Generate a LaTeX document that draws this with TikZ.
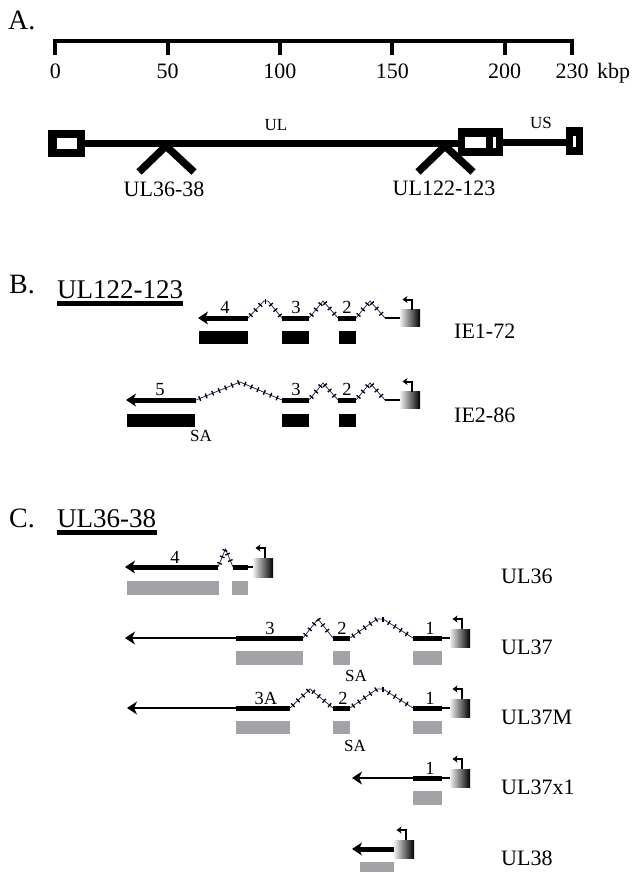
\documentclass[tikz,border=0pt]{standalone}
\usepackage{fontspec}
\setmainfont{Liberation Serif}
\usetikzlibrary{arrows.meta,decorations.markings}
\definecolor{gbox}{RGB}{163,163,167}
\definecolor{navy}{RGB}{40,40,110}
\tikzset{
  hdr/.style={font=\fontsize{28}{32}\selectfont, inner sep=0pt, anchor=base west},
  ttl/.style={font=\fontsize{27}{32}\selectfont, inner sep=0pt, anchor=base west},
  t22/.style={font=\fontsize{22}{26}\selectfont, inner sep=0pt},
  t17/.style={font=\fontsize{17}{20}\selectfont, inner sep=0pt, anchor=base},
  ex/.style={font=\fontsize{18.5}{20}\selectfont, inner sep=0pt, anchor=base},
  t16/.style={font=\fontsize{17}{19}\selectfont, inner sep=0pt, anchor=base},
  barln/.style={line width=4.5pt},
  tickln/.style={line width=4pt},
  gline/.style={line width=7.5pt},
  uline/.style={line width=4.5pt},
  exon/.style={line width=5pt},
  thinln/.style={line width=2pt},
  midln/.style={line width=2.5pt},
  arr/.style={-{Stealth[length=10pt,width=13pt,inset=3pt]}},
  hookarr/.style={line width=2pt,-{Stealth[length=5pt,width=7pt,inset=1.5pt]}},
  intron/.style={draw=navy, line width=0.8pt,
    postaction={decorate, decoration={markings,
      mark=between positions 4pt and -3pt step 7pt with {\draw[black, line width=1.3pt] (0pt,-2.5pt) -- (0pt,2.5pt);}}}},
  gfill/.style={fill=gbox},
  bfill/.style={fill=black},
}
\newcommand{\prom}[3]{%
  \shade[left color=black!6, right color=black] (#1,#2) rectangle ++(20,#3);
  \draw[hookarr] (#1+11.5,#2) -- ++(0,-10) -- ++(-9,0);}
\begin{document}
\begin{tikzpicture}[x=1pt,y=-1pt]
\useasboundingbox (0,0) rectangle (633,873);
% ---------------- A ----------------
\node[hdr] (lA) at (8,29) {A.};
\draw[barln] (53.3,41) -- (574,41);
\foreach \k in {0,50,100,150,200,230} {
  \draw[tickln] (55.3+2.2465*\k,41) -- (55.3+2.2465*\k,55);
  \node[t22, anchor=base] (s\k) at (55.3+2.2465*\k,78) {\k};
}
\node[t22, anchor=base west] (kbp) at (597,78) {kbp};
% genome map
\fill (48,130) rectangle (85,157);
\fill[white] (57,138) rectangle (77,149);
\draw[gline] (85,143.5) -- (458,143.5);
\draw[gline, line join=round] (139,172) -- (166,146) -- (194,172);
\draw[gline, line join=round] (418,172) -- (445,146) -- (473,172);
\fill (458,128) rectangle (503,156);
\fill[white] (465,137) rectangle (486,148);
\fill[white] (492.5,137) rectangle (495.5,148);
\draw[gline] (503,142.5) -- (566,142.5);
\fill (566,127) rectangle (583,155);
\fill[white] (573,136) rectangle (576,147);
\node[t17] (gUL) at (276,130) {UL};
\node[t17] (gUS) at (541,128) {US};
\node[t22, anchor=base] (g3638) at (164,196) {UL36-38};
\node[t22, anchor=base] (g122) at (444,195) {UL122-123};
% ---------------- B ----------------
\node[hdr] (lB) at (9,293) {B.};
\node[ttl] (tB) at (57,298) {UL122-123};
\draw[uline] (tB.base west) ++(0,5.5) -- ++(126,0);
% IE1-72
\draw[exon, arr] (248,318) -- (198,318);
\draw[intron] (248,318) -- (264,301) -- (268,301) -- (282,318);
\draw[exon] (282,318) -- (309,318);
\draw[intron] (309,318) -- (323,301) -- (338,318);
\draw[exon] (338,318) -- (356,318);
\draw[intron] (356,318) -- (370,301) -- (385,318);
\draw[midln] (385,318) -- (400,318);
\prom{400}{309.5}{17}
\node[ex] (b14) at (225,313.5) {4};
\node[ex] (b13) at (296,313.5) {3};
\node[ex] (b12) at (347,313.5) {2};
\fill[bfill] (199,331) rectangle (248,344);
\fill[bfill] (282,331) rectangle (309,344);
\fill[bfill] (339,331) rectangle (356,344);
\node[t22, anchor=base west] (ie1) at (454,338) {IE1-72};
% IE2-86
\draw[exon, arr] (196,400) -- (126,400);
\draw[intron] (196,400) -- (240,382) -- (282,400);
\draw[exon] (282,400) -- (309,400);
\draw[intron] (309,400) -- (323,383) -- (338,400);
\draw[exon] (338,400) -- (356,400);
\draw[intron] (356,400) -- (370,383) -- (385,400);
\draw[midln] (385,400) -- (400,400);
\prom{400}{391.5}{17}
\node[ex] (b25) at (160,395.5) {5};
\node[ex] (b23) at (296,395.5) {3};
\node[ex] (b22) at (347,395.5) {2};
\fill[bfill] (127,414) rectangle (195,427);
\fill[bfill] (282,414) rectangle (309,427);
\fill[bfill] (339,414) rectangle (356,427);
\node[t16] (bsa) at (201,441) {SA};
\node[t22, anchor=base west] (ie2) at (454,422) {IE2-86};
% ---------------- C ----------------
\node[hdr] (lC) at (9,527) {C.};
\node[ttl] (tC) at (57,527) {UL36-38};
\draw[uline] (tC.base west) ++(0,5.5) -- ++(100,0);
% UL36
\draw[exon, arr] (218,567) -- (125,567);
\draw[intron] (218,567) -- (225.5,549) -- (233,567);
\draw[exon] (233,567) -- (248,567);
\draw[thinln] (248,567) -- (253,567);
\prom{253}{558}{19}
\node[ex] (c14) at (175,563) {4};
\fill[gfill] (127,581) rectangle (219,595);
\fill[gfill] (232,581) rectangle (248,595);
\node[t22, anchor=base west] (n36) at (501,583) {UL36};
% UL37
\draw[thinln, arr] (236,638) -- (125,638);
\draw[exon] (236,638) -- (303,638);
\draw[intron] (303,638) -- (318,619) -- (333,638);
\draw[exon] (333,638) -- (350,638);
\draw[intron] (350,638) -- (377,619) -- (383,619) -- (413,638);
\draw[exon] (413,638) -- (442,638);
\draw[thinln] (442,638) -- (450,638);
\prom{450}{629}{18}
\node[ex] (c23) at (270,634) {3};
\node[ex] (c22) at (342,634) {2};
\node[ex] (c21) at (430,634) {1};
\fill[gfill] (236,651) rectangle (303,665);
\fill[gfill] (333,651) rectangle (350,665);
\fill[gfill] (413,651) rectangle (442,665);
\node[t16] (csa1) at (356,681) {SA};
\node[t22, anchor=base west] (n37) at (501,654) {UL37};
% UL37M
\draw[thinln, arr] (236,708) -- (127,708);
\draw[exon] (236,708) -- (290,708);
\draw[intron] (290,708) -- (310,689) -- (333,708);
\draw[exon] (333,708) -- (350,708);
\draw[intron] (350,708) -- (377,689) -- (383,689) -- (413,708);
\draw[exon] (413,708) -- (442,708);
\draw[thinln] (442,708) -- (450,708);
\prom{450}{699}{18}
\node[ex] (c33) at (266,704) {3A};
\node[ex] (c32) at (343,704) {2};
\node[ex] (c31) at (430,704) {1};
\fill[gfill] (236,721) rectangle (290,734);
\fill[gfill] (333,721) rectangle (350,734);
\fill[gfill] (413,721) rectangle (442,734);
\node[t16] (csa2) at (355,751) {SA};
\node[t22, anchor=base west] (n37m) at (501,724) {UL37M};
% UL37x1
\draw[thinln, arr] (413,778) -- (352,778);
\draw[exon] (413,778) -- (442,778);
\draw[thinln] (442,778) -- (450,778);
\prom{450}{769}{18}
\node[ex] (c41) at (430,774) {1};
\fill[gfill] (413,791) rectangle (442,805);
\node[t22, anchor=base west] (n37x) at (501,794) {UL37x1};
% UL38
\draw[exon, arr] (394,849) -- (352,849);
\prom{394}{840}{18}
\fill[gfill] (360,862) rectangle (394,872);
\node[t22, anchor=base west] (n38) at (501,865) {UL38};
\end{tikzpicture}
\end{document}
